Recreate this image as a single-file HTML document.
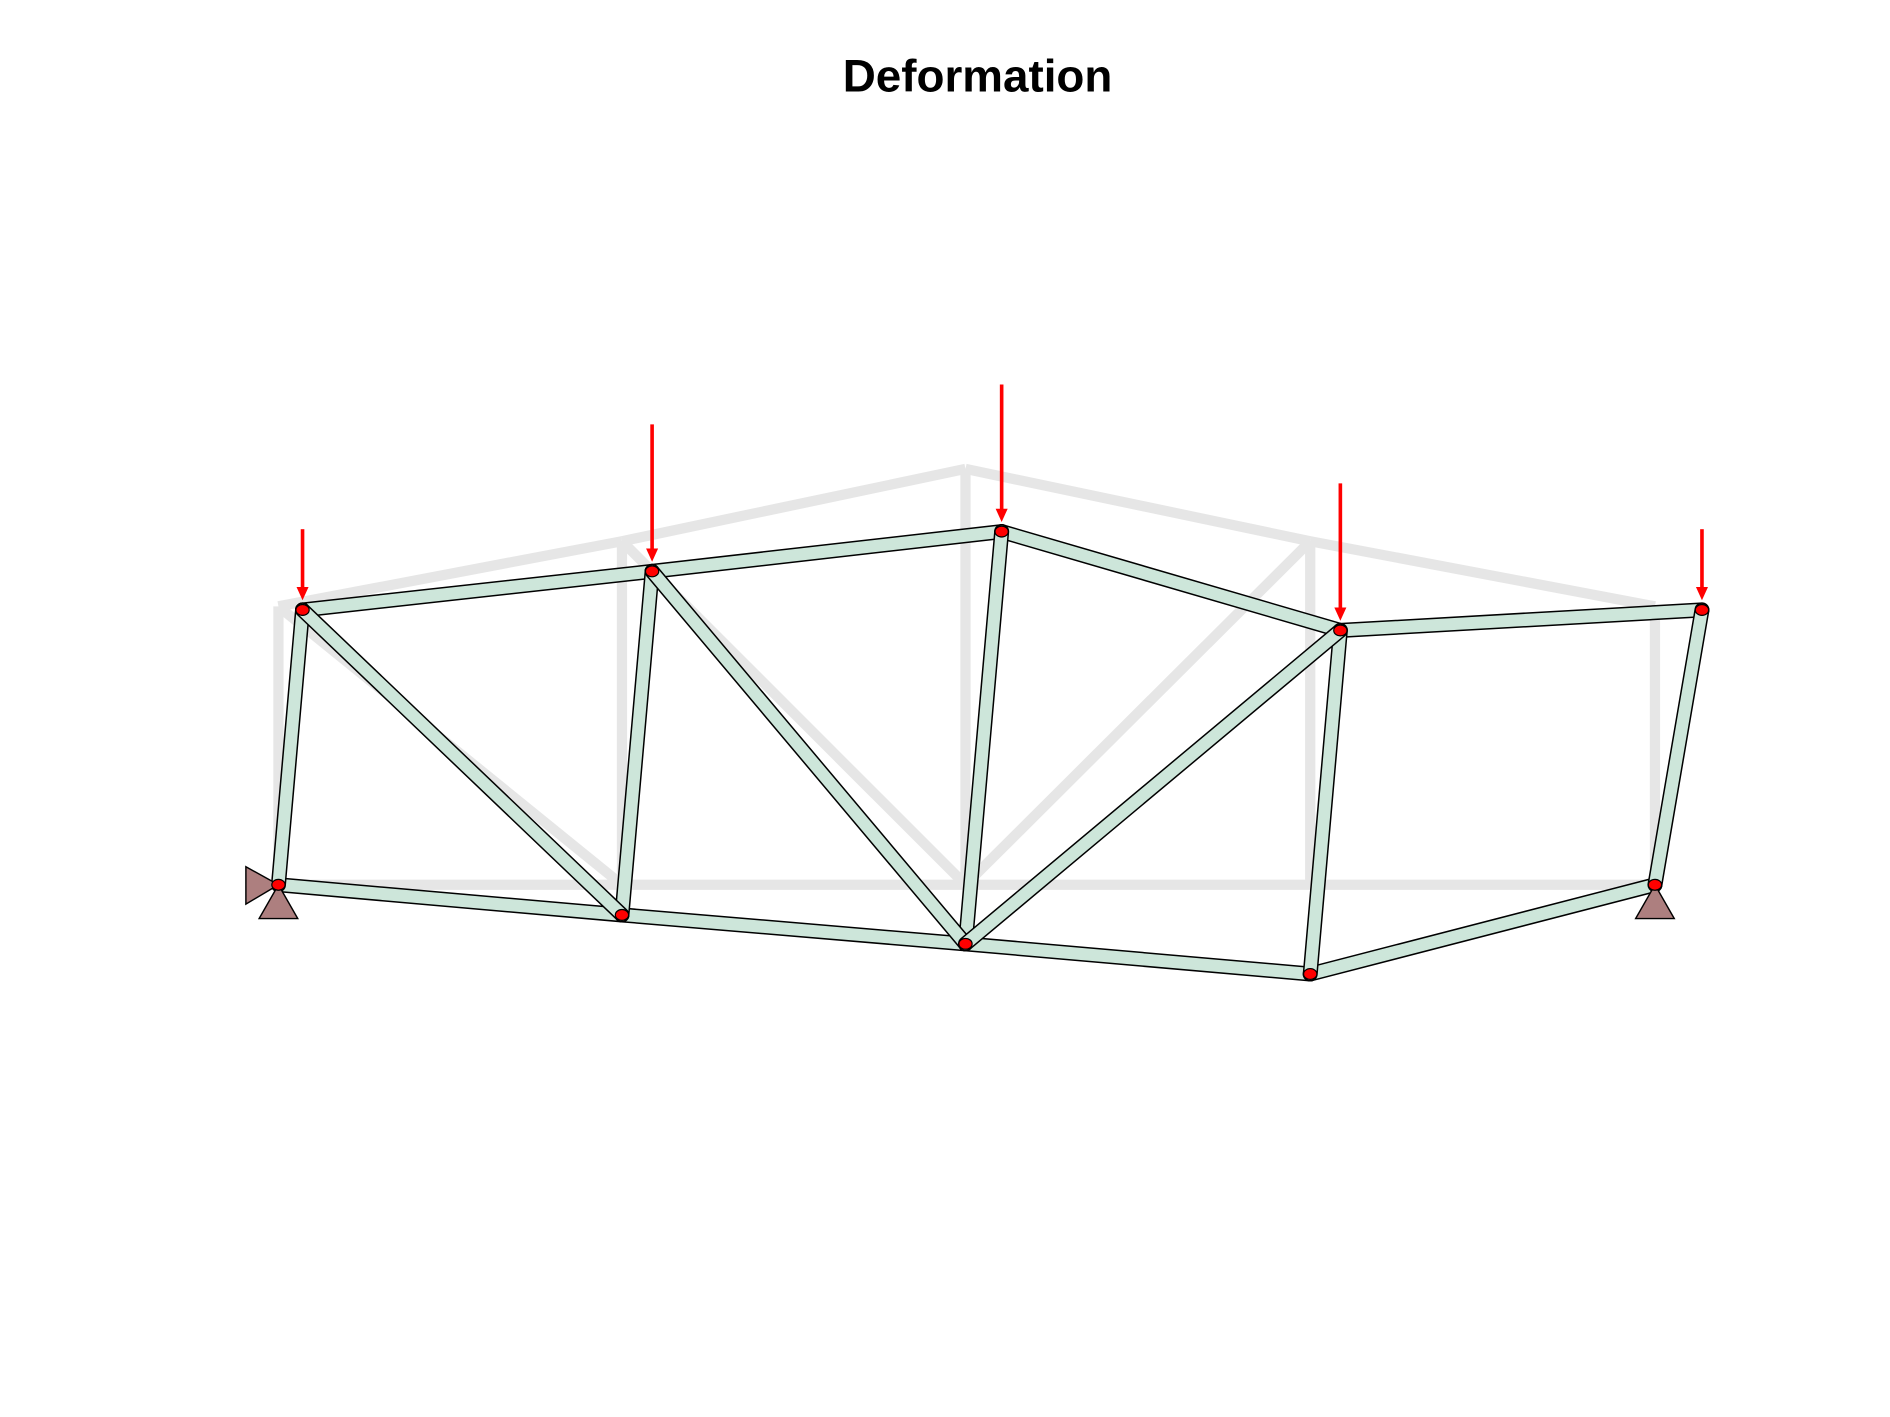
<!DOCTYPE html>
<html><head><meta charset="utf-8"><style>html,body{margin:0;padding:0;background:#fff}svg{display:block}</style></head>
<body>
<svg width="1890" height="1417" viewBox="0 0 1568 1175.5" preserveAspectRatio="none" xmlns="http://www.w3.org/2000/svg">
<rect width="1568" height="1175.5" fill="#fff"/>
<text x="811" y="76" text-anchor="middle" font-family="Liberation Sans, Arial, sans-serif" font-weight="bold" font-size="38">Deformation</text>
<g id="orig"></g><g id="mem"></g><g id="sup"></g><g id="nodes"></g><g id="loads"></g>
</svg>
<script>
// undeformed node coordinates (display units)
const origX = [231,516,801,1087,1373, 231,516,801,1087,1373];
const origY = [734,734,734,734,734, 503,449,389,449,503];
// deformed node coordinates
const defX = [231,516,801,1087,1373, 251,541,831,1112,1412];
const defY = [734,759,783,808,734, 506,474,441,523,506];
// members as node index pairs
const memA = [0,1,2,3, 5,6,7,8, 0,1,2,3,4, 5,6,2];
const memB = [1,2,3,4, 6,7,8,9, 5,6,7,8,9, 1,2,8];
// load arrow start heights (top y) for top nodes
const loadNodes = [5,6,7,8,9];
const loadTop = [439,352,319,401,439];
const supports = [0,4];

const NS='http://www.w3.org/2000/svg';
function mk(tag, attrs, parent){const e=document.createElementNS(NS,tag);for(const k in attrs)e.setAttribute(k,attrs[k]);parent.appendChild(e);return e;}
const gO=document.getElementById('orig'),gM=document.getElementById('mem'),gS=document.getElementById('sup'),gN=document.getElementById('nodes'),gL=document.getElementById('loads');
for(let i=0;i<memA.length;i++){
  const a=memA[i],b=memB[i];
  const l=mk('line',{x1:origX[a],y1:origY[a],x2:origX[b],y2:origY[b],stroke:'#e6e6e6','stroke-width':8.5},gO);
  
  
}
for(let i=0;i<memA.length;i++){
  const a=memA[i],b=memB[i];
  const g=mk('g',{},gM);
  
  
  mk('line',{x1:defX[a],y1:defY[a],x2:defX[b],y2:defY[b],stroke:'#000','stroke-width':12.5,'stroke-linecap':'round'},g);
  mk('line',{x1:defX[a],y1:defY[a],x2:defX[b],y2:defY[b],stroke:'#cde6da','stroke-width':10,'stroke-linecap':'round'},g);
}
supports.forEach((n,k)=>{
  const x=defX[n],y=defY[n];
  const t=mk('polygon',{points:`${x},${y} ${x-16},${y+28} ${x+16},${y+28}`,fill:'#ad7f7f',stroke:'#000','stroke-width':1.2},gS);
  
  
  if(k===0){
    const h=mk('polygon',{points:`${x},${y} ${x-27},${y-15} ${x-27},${y+16}`,fill:'#ad7f7f',stroke:'#000','stroke-width':1.2},gS);
    
    
  }
});
for(let i=0;i<defX.length;i++){
  const c=mk('ellipse',{cx:defX[i],cy:defY[i],rx:5.5,ry:4.5,fill:'#f00',stroke:'#000','stroke-width':1},gN);
  
  
}
for(let i=0;i<loadNodes.length;i++){
  const n=loadNodes[i],x=defX[n],tip=defY[n]-8;
  const g=mk('g',{},gL);
  
  
  mk('line',{x1:x,y1:loadTop[i],x2:x,y2:tip-8,stroke:'#f00','stroke-width':3},g);
  mk('polygon',{points:`${x-5},${tip-11} ${x+5},${tip-11} ${x},${tip}`,fill:'#f00'},g);
}
</script>
</body></html>
